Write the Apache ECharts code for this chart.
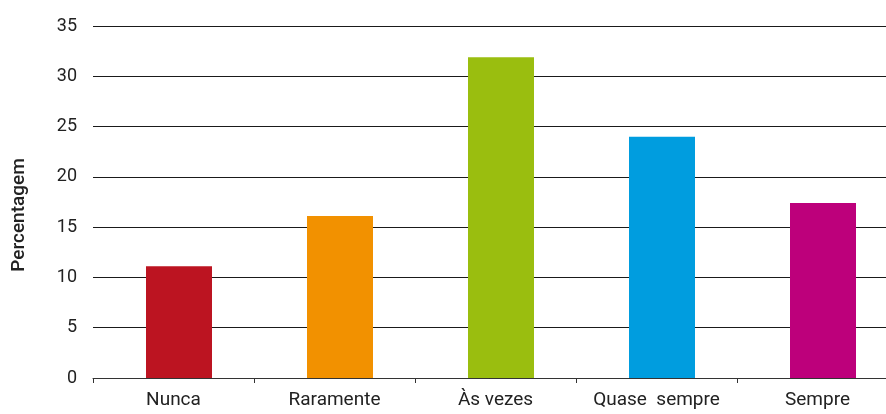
<!DOCTYPE html>
<html>
<head>
<meta charset="utf-8">
<script src="https://cdn.jsdelivr.net/npm/echarts@6/dist/echarts.min.js"></script>
<style>
html,body{margin:0;padding:0;background:#fff;}
#chart{width:886px;height:414px;}
</style>
</head>
<body>
<div id="chart"></div>
<script>
const categories = ['Nunca', 'Raramente', 'Às vezes', 'Quase  sempre', 'Sempre'];
const values = [11.1, 16.1, 31.9, 24.0, 17.4];
const colors = ['#BC1421', '#F29100', '#9ABE0F', '#009DDF', '#BD007B'];
const yTicks = [0, 5, 10, 15, 20, 25, 30, 35];
const yTitle = 'Percentagem';

const chart = echarts.init(document.getElementById('chart'));
const font = 'Roboto, "DejaVu Sans", sans-serif';
chart.setOption({
  animation: false,
  grid: { left: 93, width: 805, top: 26, height: 352, containLabel: false, outerBoundsMode: 'none' },
  xAxis: {
    type: 'category',
    data: categories,
    axisLine: { show: true, lineStyle: { color: '#333', width: 1 } },
    axisTick: { show: true, length: 5, lineStyle: { color: '#333' } },
    axisLabel: { color: '#222', fontFamily: font, fontSize: 19, margin: 13, interval: 0, hideOverlap: false }
  },
  yAxis: {
    type: 'value',
    min: yTicks[0],
    max: yTicks[yTicks.length - 1],
    interval: yTicks[1] - yTicks[0],
    axisLine: { show: false },
    axisTick: { show: false },
    splitLine: { lineStyle: { color: '#1a1a1a', width: 1 } },
    axisLabel: { color: '#222', fontFamily: font, fontSize: 18, margin: 16 }
  },
  graphic: [{
    type: 'text',
    x: 19, y: 215,
    rotation: Math.PI / 2,
    style: {
      text: yTitle,
      fill: '#222',
      font: '500 19px ' + font,
      textAlign: 'center',
      textVerticalAlign: 'middle'
    }
  }],
  series: [
    {
      type: 'bar',
      data: categories.map(() => null),
      barWidth: 11,
      barGap: 0,
      silent: true
    },
    {
      type: 'bar',
      data: values.map((v, i) => ({ value: v, itemStyle: { color: colors[i] } })),
      barWidth: 66,
      barGap: 0
    }
  ]
});
</script>
</body>
</html>
